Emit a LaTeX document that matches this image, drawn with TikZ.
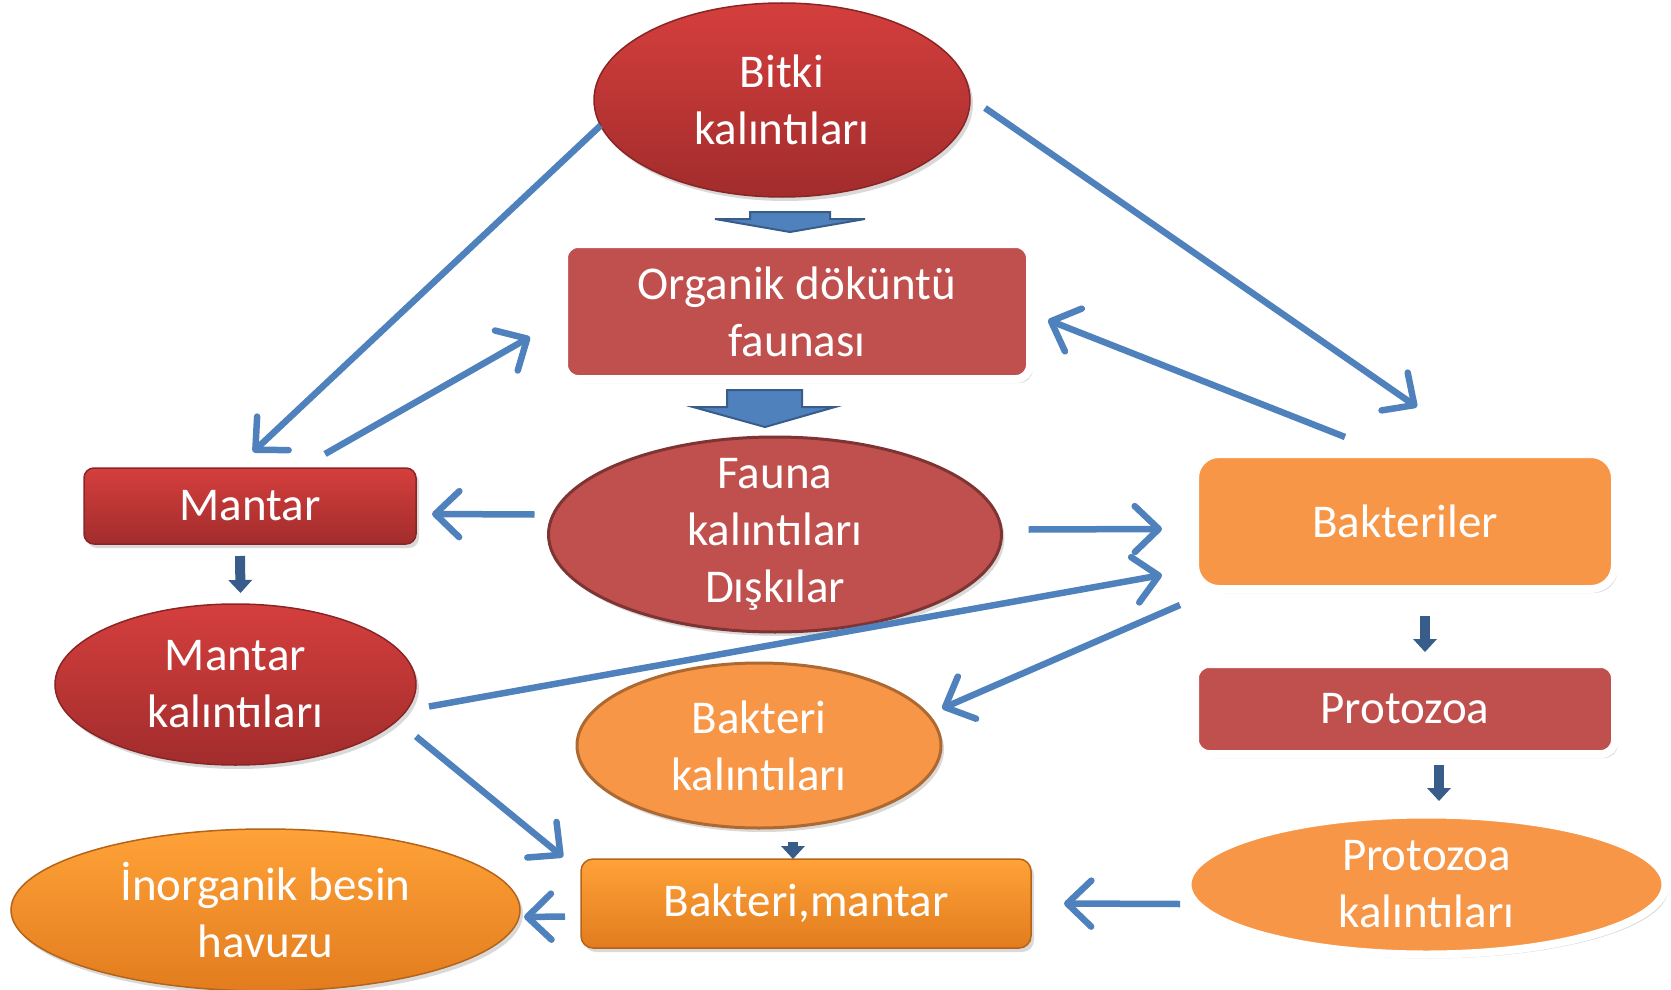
\documentclass[tikz,border=0pt]{standalone}
\usepackage{fontspec}
\setmainfont{Carlito}
\usetikzlibrary{shapes.geometric, arrows.meta, shadows, calc}
\definecolor{ared}{HTML}{C0504D}
\definecolor{aora}{HTML}{F79646}
\definecolor{rtop}{HTML}{D43F3D}
\definecolor{rbot}{HTML}{A22C2C}
\definecolor{otop}{HTML}{FFA238}
\definecolor{obot}{HTML}{E27C1E}
\definecolor{okl}{HTML}{4F81BD}
\definecolor{okd}{HTML}{385D8A}
\tikzset{txt/.style = {text=white, align=center, font=\fontsize{23.5}{28.5}\selectfont},
         bx/.style = {rectangle, txt, inner sep=0pt, outer sep=0pt, drop shadow={opacity=.3, shadow xshift=1.5pt, shadow yshift=-2pt}},
         el/.style = {ellipse, txt, inner sep=0pt, inner ysep=-12pt, outer sep=0pt, drop shadow={opacity=.3, shadow xshift=1.5pt, shadow yshift=-2pt}},
         wb/.style = {draw=white, line width=4pt},
         rg/.style = {top color=rtop, bottom color=rbot, draw=rbot!85!black, line width=.75pt},
         og/.style = {top color=otop, bottom color=obot, draw=obot!80!black, line width=.75pt},
         ok/.style = {okl, line width=3.25pt, -{Straight Barb[length=12pt, width=23pt, round]}},
         ko/.style = {okd, line width=5pt, -{Triangle[length=6.5pt, width=12pt, line width=0pt]}},
         blk/.style = {fill=okl, draw=okd, line width=1pt}}

\begin{document}
\begin{tikzpicture}[x=0.5pt, y=-0.5pt]
    \useasboundingbox (0,0) rectangle (1671,990);
    % nodes
    \node[el, rg, minimum width=188pt, minimum height=97pt] (bk) at (782,100) {Bitki\\kalıntıları};
    \node[bx, wb, fill=ared, rounded corners=7pt, minimum width=233pt, minimum height=67.5pt] (od) at (797,311.5) {Organik döküntü\\faunası};
    \node[el, fill=ared, draw=ared!65!black, line width=1.5pt, minimum width=226.5pt, minimum height=97.5pt] (fk) at (775,534.5) {Fauna\\kalıntıları\\Dışkılar};
    \node[bx, rg, rounded corners=5pt, minimum width=166pt, minimum height=38pt] (mt) at (250,506) {Mantar};
    \node[el, rg, minimum width=180.5pt, minimum height=80.5pt] (mk) at (235.5,684.5) {Mantar\\kalıntıları};
    \node[bx, wb, fill=aora, rounded corners=12pt, minimum width=210pt, minimum height=67.5pt] (bt) at (1405,521.5) {Bakteriler};
    \node[bx, wb, fill=ared, rounded corners=7pt, minimum width=210pt, minimum height=45pt] (pz) at (1405,709) {Protozoa};
    \node[el, fill=aora, draw=aora!70!black, line width=1.5pt, minimum width=182pt, minimum height=82.5pt] (bkk) at (759,745.5) {Bakteri\\kalıntıları};
    \node[bx, og, rounded corners=6pt, minimum width=225pt, minimum height=44.5pt] (bm) at (806,903.5) {Bakteri,mantar};
    \node[el, wb, fill=aora, minimum width=239pt, minimum height=70pt] (pk) at (1426.5,884.5) {Protozoa\\kalıntıları};
    \node[el, og, minimum width=254.5pt, minimum height=81pt] (ib) at (265.5,910) {İnorganik besin\\havuzu};
    % block arrows
    \filldraw[blk] (750,212) -- (830,212) -- (830,219) -- (865,219) -- (790,232) -- (715,219) -- (750,219) -- cycle;
    \filldraw[blk] (727,390) -- (802,390) -- (802,407) -- (835,407) -- (765,427) -- (693,407) -- (727,407) -- cycle;
    % thin arrows
    \draw[ok] (bk.188) -- ($(mt.north)+(3,-16)$);
    \draw[ok] ($(mt.north)+(75,-14)$) -- ($(od.west)+(-34,25.5)$);
    \draw[ok] ($(bk.east)+(15,8)$) -- ($(bt.north)+(12,-47)$);
    \draw[ok] ($(bt.north)+(-60,-17)$) -- ($(od.east)+(18,8.5)$);
    \draw[ok] ($(fk.west)+(-14,-20)$) -- ($(mt.east)+(16,8)$);
    \draw[ok] ($(fk.east)+(27,-5)$) -- ($(bt.west)+(-33,7.5)$);
    \draw[ok] ($(mk.east)+(13,22)$) -- ($(bt.west)+(-33,53.5)$);
    \draw[ok] ($(bt.south west)+(-15,16)$) -- ($(bkk.east)+(1,-37)$);
    \draw[ok] ($(mk.east)+(0,52)$) -- ($(bm.north west)+(-18,-2)$);
    \draw[ok] ($(bm.west)+(-16,13)$) -- ($(ib.east)+(4,7)$);
    \draw[ok] ($(pk.west)+(-7.5,19.5)$) -- ($(bm.east)+(33,0)$);
    % short arrows
    \draw[ko] ($(mt.south)+(-10,12)$) -- ($(mk.north)+(5,-11)$);
    \draw[ko] ($(bt.south)+(20,27)$) -- ($(pz.north)+(20,-12)$);
    \draw[ko] ($(pz.south)+(34,11)$) -- ($(pk.north)+(12.5,-13.5)$);
    \draw[ko] ($(bkk.south)+(34,14)$) -- ($(bm.north)+(-13,0)$);
\end{tikzpicture}
\end{document}
